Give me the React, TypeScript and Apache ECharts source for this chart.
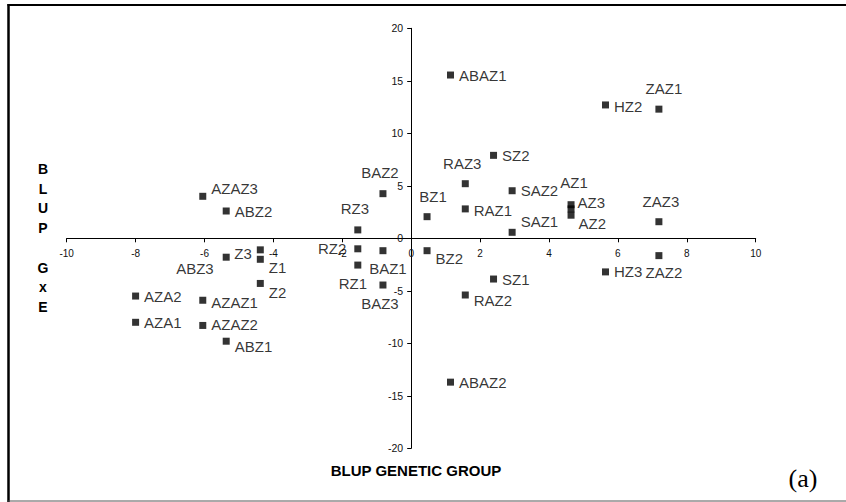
import React, { useEffect, useRef } from "react";
import * as echarts from "echarts";

// Genotype x environment combinations
const pointNames = [
  "AZA1", "AZA2",
  "AZAZ1", "AZAZ2", "AZAZ3",
  "ABZ1", "ABZ2", "ABZ3",
  "Z1", "Z2", "Z3",
  "RZ1", "RZ2", "RZ3",
  "BAZ1", "BAZ2", "BAZ3",
  "BZ1", "BZ2",
  "ABAZ1", "ABAZ2",
  "RAZ1", "RAZ2", "RAZ3",
  "SZ1", "SZ2",
  "SAZ1", "SAZ2",
  "AZ1", "AZ2", "AZ3",
  "HZ2", "HZ3",
  "ZAZ1", "ZAZ2", "ZAZ3",
];

// BLUP genetic group (x)
const geneticGroupBlup = [
  -8.0, -8.0,
  -6.05, -6.05, -6.05,
  -5.37, -5.37, -5.37,
  -4.38, -4.38, -4.38,
  -1.55, -1.55, -1.55,
  -0.82, -0.82, -0.82,
  0.46, 0.46,
  1.14, 1.14,
  1.57, 1.57, 1.57,
  2.39, 2.39,
  2.93, 2.93,
  4.64, 4.64, 4.64,
  5.64, 5.64,
  7.19, 7.19, 7.19,
];

// BLUP G x E (y)
const gxeBlup = [
  -8.0, -5.5,
  -5.9, -8.3, 4.0,
  -9.8, 2.6, -1.8,
  -2.0, -4.3, -1.1,
  -2.55, -1.0, 0.8,
  -1.18, 4.25, -4.45,
  2.06, -1.18,
  15.55, -13.7,
  2.8, -5.4, 5.2,
  -3.88, 7.9,
  0.57, 4.53,
  3.2, 2.2, 2.8,
  12.7, -3.2,
  12.3, -1.65, 1.58,
];

const xAxisRange = [-10, 10];
const xAxisStep = 2;
const yAxisRange = [-20, 20];
const yAxisStep = 5;

// label placement (style only): [position, dx, dy]
const labelPlacement: Record<string, [string, number, number]> = {
  AZA1: ["right", 0, 0],
  AZA2: ["right", 0, 0],
  AZAZ1: ["right", 0, 2],
  AZAZ2: ["right", 0, -1],
  AZAZ3: ["right", 0, -8],
  ABZ1: ["right", 0, 5],
  ABZ2: ["right", 0, 0],
  ABZ3: ["left", -4, 11],
  Z1: ["right", 0, 8],
  Z2: ["right", 0, 9],
  Z3: ["left", 0, 4],
  RZ1: ["bottom", -5, 2],
  RZ2: ["left", -3, 0],
  RZ3: ["top", -3, -5],
  BAZ1: ["bottom", 5, 2],
  BAZ2: ["top", -3, -5],
  BAZ3: ["bottom", -3, 2],
  BZ1: ["top", 6, -4],
  BZ2: ["right", 0, 8],
  ABAZ1: ["right", 0, 0],
  ABAZ2: ["right", 0, 0],
  RAZ1: ["right", 0, 2],
  RAZ2: ["right", 0, 5],
  RAZ3: ["top", -3, -4],
  SZ1: ["right", 0, 0],
  SZ2: ["right", 0, 0],
  SAZ1: ["right", 0, -11],
  SAZ2: ["right", 0, 0],
  AZ1: ["top", 3, -6],
  AZ2: ["right", -1, 8],
  AZ3: ["right", -2, -6],
  HZ2: ["right", 0, 2],
  HZ3: ["right", 0, 0],
  ZAZ1: ["top", 5, -5],
  ZAZ2: ["bottom", 5, 1],
  ZAZ3: ["top", 2, -4],
};

const FONT = "'Liberation Sans', Arial, sans-serif";

const GRID = { left: 66.7, right: 90.3, top: 28.3, bottom: 53.7 };
const CHART_W = 846;
const CHART_H = 502;

export default function App() {
  const ref = useRef<HTMLDivElement>(null);

  useEffect(() => {
    if (!ref.current) return;
    const chart = echarts.init(ref.current, undefined, { renderer: "svg" });

    const data = pointNames.map((name, i) => {
      const p = labelPlacement[name] || ["right", 0, 0];
      return {
        name,
        value: [geneticGroupBlup[i], gxeBlup[i]],
        label: { position: p[0], offset: [p[1], p[2]] },
      };
    });

    // move the axes so they cross at the origin (labels and ticks follow)
    const plotW = CHART_W - GRID.left - GRID.right;
    const plotH = CHART_H - GRID.top - GRID.bottom;
    const xZeroFrac = (0 - xAxisRange[0]) / (xAxisRange[1] - xAxisRange[0]);
    const yZeroFrac = (0 - yAxisRange[0]) / (yAxisRange[1] - yAxisRange[0]);
    const xAxisOffset = -plotH * yZeroFrac;
    const yAxisOffset = -plotW * xZeroFrac;

    chart.setOption({
      animation: false,
      backgroundColor: "#ffffff",
      grid: { ...GRID, containLabel: false },
      xAxis: {
        type: "value",
        position: "bottom",
        offset: xAxisOffset,
        min: xAxisRange[0],
        max: xAxisRange[1],
        interval: xAxisStep,
        splitLine: { show: false },
        axisLine: { onZero: false, lineStyle: { color: "#000", width: 1 } },
        axisTick: { show: true, length: 4, lineStyle: { color: "#000" } },
        axisLabel: { color: "#111", fontSize: 10, fontFamily: FONT, margin: 10 },
      },
      yAxis: {
        type: "value",
        position: "left",
        offset: yAxisOffset,
        min: yAxisRange[0],
        max: yAxisRange[1],
        interval: yAxisStep,
        splitLine: { show: false },
        axisLine: { onZero: false, lineStyle: { color: "#000", width: 1 } },
        axisTick: { show: true, length: 4, lineStyle: { color: "#000" } },
        axisLabel: { color: "#111", fontSize: 10.5, fontFamily: FONT, margin: 8 },
      },
      series: [
        {
          type: "scatter",
          symbol: "rect",
          symbolSize: 7,
          itemStyle: { color: "#000" },
          label: {
            show: true,
            formatter: "{b}",
            color: "#000",
            fontSize: 15,
            fontFamily: FONT,
            distance: 5,
          },
          data,
          z: 3,
        },
      ],
      graphic: [
        {
          type: "line",
          shape: { x1: 8.5, y1: 4, x2: 8.5, y2: 502 },
          style: { stroke: "#000", lineWidth: 2.5 },
        },
        {
          type: "line",
          shape: { x1: 7.5, y1: 5, x2: 846, y2: 5 },
          style: { stroke: "#000", lineWidth: 2 },
        },
        {
          type: "line",
          shape: { x1: 8, y1: 501, x2: 846, y2: 501 },
          style: { stroke: "#555", lineWidth: 1 },
        },
        {
          type: "text",
          x: 416,
          y: 470,
          style: {
            text: "BLUP GENETIC GROUP",
            font: `bold 15px ${FONT}`,
            fill: "#000",
            align: "center",
            verticalAlign: "middle",
          },
        },
        {
          type: "text",
          x: 43,
          y: 238,
          style: {
            text: "B\nL\nU\nP\n\nG\nx\nE",
            font: `bold 14px ${FONT}`,
            fill: "#000",
            align: "center",
            verticalAlign: "middle",
            lineHeight: 19.7,
          },
        },
        {
          type: "text",
          x: 803,
          y: 478,
          style: {
            text: "(a)",
            font: `26px 'Liberation Serif', 'Times New Roman', serif`,
            fill: "#000",
            align: "center",
            verticalAlign: "middle",
          },
        },
      ],
    });

    return () => chart.dispose();
  }, []);

  return (
    <div
      ref={ref}
      style={{ position: "fixed", left: 0, top: 0, width: CHART_W, height: CHART_H }}
    />
  );
}
